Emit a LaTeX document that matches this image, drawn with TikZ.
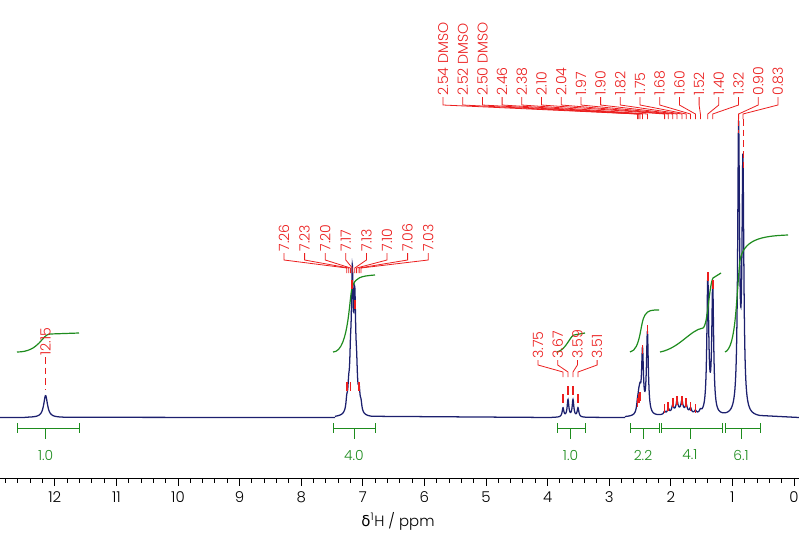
\documentclass[tikz,border=0pt]{standalone}
\usepackage{fontspec}
\setmainfont{Poppins}[UprightFont=*-Light]
\newfontfamily\greekfont{DejaVu Sans}
\definecolor{specblue}{RGB}{28,32,110}
\definecolor{pkred}{RGB}{235,30,30}
\definecolor{intgreen}{RGB}{30,140,30}
\tikzset{every picture/.style={line width=0.75pt}}
\tikzset{
  pklabel/.style={rotate=90,anchor=west,inner sep=0.75pt,text=pkred,font=\fontsize{10.6pt}{11pt}\selectfont},
  leader/.style={draw=pkred,line width=0.6pt},
  intlabel/.style={text=intgreen,inner sep=0.75pt,font=\fontsize{10.4pt}{11pt}\selectfont},
  axlabel/.style={inner sep=0.75pt,font=\fontsize{11.2pt}{12pt}\selectfont},
  integ/.style={draw=intgreen,line width=0.9pt},
  spec/.style={draw=specblue,line width=0.95pt},
}
\begin{document}
\begin{tikzpicture}[x=0.75pt,y=0.75pt,yscale=-1,xscale=1,
  declare function={lor(\x,\c,\h,\w)=\h/(1+((\x-\c)/\w)^2);
    specA(\x)=lor(\x,45.6,22,2.3);
    specB(\x)=lor(\x,346.8,10,1)+lor(\x,348.7,18,1)+lor(\x,350.5,35,1)+lor(\x,352.3,125,1.1)+lor(\x,354.8,100,1.1)+lor(\x,356.6,28,1)+lor(\x,359.1,18,1)+lor(\x,361,8,1);
    specC(\x)=lor(\x,563,9,1)+lor(\x,568,17,1)+lor(\x,573,17,1)+lor(\x,578,9,1);
    specD(\x)=lor(\x,637.5,8,1.1)+lor(\x,638.8,12,1.1)+lor(\x,640,16,1.1)+lor(\x,642.5,62,1.1)+lor(\x,647.4,82,1.1)
      +lor(\x,664.6,3,1.1)+lor(\x,668.3,5,1.1)+lor(\x,672.7,7,1.1)+lor(\x,677,10,1.1)+lor(\x,681.9,10,1.1)+lor(\x,686.2,7,1.1)+lor(\x,690.5,5,1.1)+lor(\x,695.4,3,1.1)+lor(\x,680,6,11)+lor(\x,700.4,3,1.1)
      +lor(\x,707.8,134,1.1)+lor(\x,712.7,127,1.1)+lor(\x,738.6,282,1.1)+lor(\x,742.9,247,1.1);}]
\useasboundingbox (0,0) rectangle (799,532);

% spectrum
\draw[spec] (0,417.5) -- (25,417.5)
  plot[domain=25:70,samples=120] (\x,{417.5-specA(\x)})
  -- (335,417.5)
  plot[domain=335:372,samples=260] (\x,{417.5-specB(\x)})
  -- (552,417.5)
  plot[domain=552:590,samples=200] (\x,{417.5-specC(\x)})
  -- (625,417.5)
  plot[domain=625:760,samples=700] (\x,{417.5-specD(\x)})
  -- (799,417.5);

% integrals
\draw[integ] (17,352) .. controls (40,352) and (42,334) .. (50,334) -- (79,333);
\draw[integ] (333,352) .. controls (350,352) and (349,290) .. (353,285) .. controls (356,278) and (360,276) .. (375,275);
\draw[integ] (557,352) .. controls (566,350) and (570,336) .. (574,335) -- (585,333);
\draw[integ] (630,352) .. controls (641,350) and (640,322) .. (645,315) .. controls (648,310) and (652,310) .. (659,310);
\draw[integ] (660,352) .. controls (680,348) and (690,330) .. (703,328) .. controls (708,325) and (709,285) .. (713,278) -- (721,273);
\draw[integ] (725,352) .. controls (736,348) and (736,300) .. (740,260) .. controls (744,240) and (760,236) .. (788,235);

% integral brackets
\foreach \a/\b/\c/\v [count=\i] in {17/79/45.6/1.0, 333/375/354/4.0, 557/585/570.5/1.0, 630/659/643/2.2, 661/722/690/4.1, 725/760/741/6.1}{
  \draw[intgreen] (\a,423) -- (\a,433) (\a,428) -- (\b,428) (\b,423) -- (\b,433) (\c,428) -- (\c,439);
  \node[intlabel] (int\i) at (\c,455) {\v};
}

% axis
\draw (0,478) -- (799,478);
\foreach \t in {0,...,66}{ \draw ({794-12.32*\t},478) -- ({794-12.32*\t},483); }
\foreach \t in {0,...,12}{
  \draw ({794-61.6*\t},478) -- ({794-61.6*\t},486);
  \node[axlabel] (tk\t) at ({794-61.6*\t},497) {\t};
}
\node[axlabel] (xtitle) at (398,521) {{\greekfont δ}\textsuperscript{1}H / ppm};

% peak labels: top group
\foreach \lab/\px [count=\i] in {2.54 DMSO/637.5, 2.52 DMSO/638.8, 2.50 DMSO/640, 2.46/642.5, 2.38/647.4, 2.10/664.6, 2.04/668.3, 1.97/672.7, 1.90/677, 1.82/681.9, 1.75/686.2, 1.68/690.5, 1.60/695.4, 1.52/700.4, 1.40/707.8, 1.32/712.7, 0.90/738.6, 0.83/742.9}{
  \pgfmathsetmacro{\lx}{443+19.7*(\i-1)}
  \node[pklabel] (pa\i) at (\lx,97) {\lab};
  \draw[leader] (pa\i.west) -- (\lx,105) -- (\px,114) -- (\px,119);
}
\draw[leader,dash pattern=on 5pt off 3pt] (738.6,119) -- (738.6,133);
\draw[leader,dash pattern=on 5pt off 3pt] (742.9,119) -- (742.9,168);

% aromatic group
\foreach \lab/\px [count=\i] in {7.26/346.8, 7.23/348.7, 7.20/350.5, 7.17/352.3, 7.13/354.8, 7.10/356.6, 7.06/359.1, 7.03/361}{
  \pgfmathsetmacro{\lx}{284+20.6*(\i-1)}
  \node[pklabel] (pb\i) at (\lx,253) {\lab};
  \draw[leader] (pb\i.west) -- (\lx,260) -- (\px,268) -- (\px,273);
}

% 3.6 group
\foreach \lab/\px [count=\i] in {3.75/563, 3.67/568, 3.59/573, 3.51/578}{
  \pgfmathsetmacro{\lx}{538+19.7*(\i-1)}
  \node[pklabel] (pc\i) at (\lx,360) {\lab};
  \draw[leader] (pc\i.west) -- (\lx,365) -- (\px,372) -- (\px,377);
}

% 12.15
\node[pklabel] (pd1) at (45.6,357) {12.15};
\draw[leader,dash pattern=on 5pt off 3pt] (pd1.west) -- (45.6,390);

% markers on peaks
\foreach \px/\ty in {346.8/382, 350.5/382, 359.1/382, 352.3/280, 354.8/300, 563/394, 568/386, 573/386, 578/394,
  637.5/398, 638.8/394, 640/392, 642.5/345, 647.4/325, 664.6/404, 668.3/402, 672.7/398, 677/396, 681.9/396, 686.2/398, 690.5/402, 695.4/404,
  707.8/272, 712.7/280}{
  \draw[pkred,line width=1.3pt] (\px,\ty) -- (\px,{\ty+9});
}
\end{tikzpicture}
\end{document}
